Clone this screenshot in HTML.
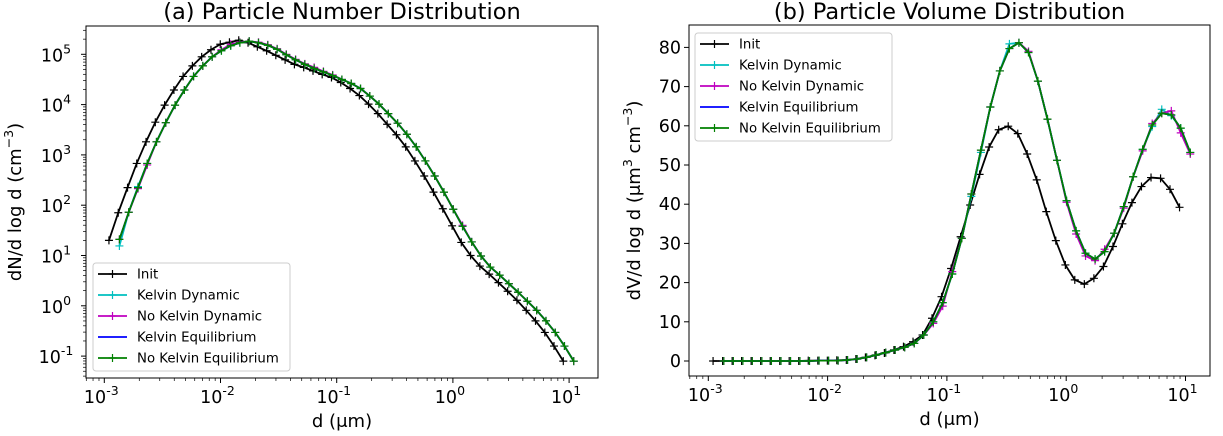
<!DOCTYPE html>
<html><head><meta charset="utf-8">
<style>
html,body{margin:0;padding:0;background:#fff;}
svg{display:block;font-family:"DejaVu Sans","Liberation Sans",sans-serif;}
</style></head>
<body>
<svg id="fig" width="1223" height="436" viewBox="0 0 1223 436" xmlns="http://www.w3.org/2000/svg"></svg>
<script>
const logD_init = [-2.960,-2.880,-2.800,-2.721,-2.641,-2.561,-2.481,-2.401,-2.322,-2.242,-2.162,-2.082,-2.002,-1.923,-1.843,-1.763,-1.683,-1.603,-1.524,-1.444,-1.364,-1.284,-1.204,-1.125,-1.045,-0.965,-0.885,-0.805,-0.726,-0.646,-0.566,-0.486,-0.406,-0.327,-0.247,-0.167,-0.087,-0.007,0.072,0.152,0.232,0.312,0.392,0.471,0.551,0.631,0.711,0.791,0.870,0.950];
const logD_grown = [-2.870,-2.790,-2.710,-2.631,-2.551,-2.471,-2.391,-2.311,-2.232,-2.152,-2.072,-1.992,-1.912,-1.833,-1.753,-1.673,-1.593,-1.513,-1.434,-1.354,-1.274,-1.194,-1.114,-1.035,-0.955,-0.875,-0.795,-0.715,-0.636,-0.556,-0.476,-0.396,-0.316,-0.237,-0.157,-0.077,0.003,0.083,0.162,0.242,0.322,0.402,0.482,0.561,0.641,0.721,0.801,0.881,0.960,1.040];

// log10 of dN/dlogd
const numInit = [1.30,1.85,2.35,2.83,3.26,3.65,3.99,4.29,4.56,4.77,4.95,5.09,5.20,5.24,5.28,5.23,5.15,5.07,4.98,4.89,4.80,4.74,4.67,4.60,4.54,4.44,4.32,4.18,4.01,3.82,3.61,3.40,3.16,2.88,2.58,2.26,1.93,1.59,1.26,1.00,0.79,0.63,0.46,0.29,0.11,-0.09,-0.30,-0.53,-0.80,-1.10];
const numKelvinDyn = [1.19,1.86,2.37,2.83,3.26,3.64,3.99,4.29,4.56,4.77,4.95,5.07,5.17,5.23,5.26,5.23,5.18,5.10,4.99,4.89,4.80,4.72,4.65,4.58,4.50,4.42,4.32,4.17,4.01,3.82,3.63,3.41,3.16,2.88,2.58,2.26,1.92,1.58,1.27,0.99,0.77,0.61,0.44,0.27,0.09,-0.09,-0.30,-0.53,-0.80,-1.10];
const numNoKelvinDyn = [1.32,1.86,2.33,2.80,3.26,3.64,3.99,4.29,4.56,4.77,4.95,5.09,5.20,5.24,5.26,5.24,5.19,5.11,5.00,4.90,4.81,4.74,4.66,4.59,4.50,4.42,4.32,4.17,4.01,3.82,3.63,3.41,3.16,2.88,2.58,2.26,1.92,1.60,1.27,0.99,0.77,0.61,0.44,0.27,0.09,-0.09,-0.30,-0.53,-0.80,-1.10];
const numKelvinEq = [1.32,1.86,2.35,2.83,3.26,3.64,3.99,4.29,4.56,4.77,4.95,5.07,5.17,5.23,5.26,5.23,5.18,5.10,4.99,4.89,4.80,4.72,4.65,4.58,4.50,4.42,4.32,4.17,4.01,3.82,3.63,3.41,3.16,2.88,2.58,2.26,1.92,1.58,1.27,0.99,0.77,0.61,0.44,0.27,0.09,-0.09,-0.30,-0.53,-0.80,-1.10];
const numNoKelvinEq = [1.32,1.86,2.35,2.83,3.26,3.64,3.99,4.29,4.56,4.77,4.95,5.07,5.17,5.23,5.26,5.23,5.18,5.10,4.99,4.89,4.80,4.72,4.65,4.58,4.50,4.42,4.32,4.17,4.01,3.82,3.63,3.41,3.16,2.88,2.58,2.26,1.92,1.58,1.27,0.99,0.77,0.61,0.44,0.27,0.09,-0.09,-0.30,-0.53,-0.80,-1.10];

const volInit = [0,0,0,0,0,0,0,0,0,0,0.1,0.1,0.1,0.2,0.26,0.5,0.94,1.45,2.04,2.8,3.66,4.93,6.63,10.9,16.4,23.6,31.7,39.8,47.6,54.6,59.0,59.9,58.0,52.8,46.2,38.1,30.7,24.5,20.7,19.6,21.1,24.1,29.2,35.0,40.4,44.5,46.8,46.6,43.8,39.2];
const volKelvinDyn = [0,0,0,0,0,0,0,0,0,0,0.1,0.1,0.1,0.26,0.5,0.94,1.53,2.13,2.8,3.49,4.5,6.63,10.0,14.9,22.2,31.3,42.0,53.2,64.8,74.0,80.9,81.2,78.7,71.4,61.7,51.2,40.9,33.2,27.5,26.0,27.9,32.6,39.4,47.0,54.0,59.8,64.2,62.6,59.4,53.2];
const volNoKelvinDyn = [0,0,0,0,0,0,0,0,0,0,0.1,0.1,0.1,0.26,0.5,0.94,1.53,2.13,2.8,3.49,4.5,6.63,9.6,14.0,22.8,31.3,42.6,53.8,64.8,74.0,79.7,81.2,79.0,71.4,61.7,51.2,40.5,32.4,26.8,25.6,28.5,32.6,39.0,47.0,53.6,60.6,63.2,63.8,58.2,52.8];
const volKelvinEq = [0,0,0,0,0,0,0,0,0,0,0.1,0.1,0.1,0.26,0.5,0.94,1.53,2.13,2.8,3.49,4.5,6.63,10.0,14.9,22.2,31.3,42.6,53.8,64.8,74.0,79.7,81.2,78.7,71.4,61.7,51.2,40.9,33.2,27.5,26.0,27.9,32.6,39.4,47.0,54.0,60.2,63.2,62.8,59.4,53.2];
const volNoKelvinEq = [0,0,0,0,0,0,0,0,0,0,0.1,0.1,0.1,0.26,0.5,0.94,1.53,2.13,2.8,3.49,4.5,6.63,10.0,14.9,22.2,31.3,42.6,53.8,64.8,74.0,79.7,81.2,78.7,71.4,61.7,51.2,40.9,33.2,27.5,26.0,27.9,32.6,39.4,47.0,54.0,60.2,63.2,62.8,59.4,53.2];

const xDecades = [-3,-2,-1,0,1];
const xTickLabels = ["-3","-2","-1","0","1"];
const yLogDecades = [-1,0,1,2,3,4,5];
const yLogLabels = ["-1","0","1","2","3","4","5"];
const yLinTicks = [0,10,20,30,40,50,60,70,80];

const seriesNames = ["Init","Kelvin Dynamic","No Kelvin Dynamic","Kelvin Equilibrium","No Kelvin Equilibrium"];
const seriesColors = ["#000000","#00bfbf","#bf00bf","#0000ff","#008000"];
const seriesMarkers = [true,true,true,false,true];

const NS="http://www.w3.org/2000/svg";
const svg=document.getElementById('fig');
function el(tag,attrs,parent){const e=document.createElementNS(NS,tag);for(const k in attrs)e.setAttribute(k,attrs[k]);(parent||svg).appendChild(e);return e;}

function drawPanel(cfg){
  const g=el('g',{});
  
  
  const L=cfg.L,R=cfg.R,T=cfg.T,B=cfg.B;
  const sx=v=>cfg.x0+(v+3)*cfg.xdec;
  const sy=cfg.sy;
  const xt=el('g',{},g);
  
  
  for(let d=-4;d<=1;d++){
    for(let m=1;m<10;m++){
      const v=d+Math.log10(m);
      const x=sx(v);
      if(x<L||x>R)continue;
      el('line',{x1:x,x2:x,y1:B,y2:B+(m===1?5:3),stroke:'#000','stroke-width':m===1?1:0.7},xt);
    }
  }
  xDecades.forEach((d,i)=>{
    const t=el('text',{x:sx(d)-3,y:B+25,'font-size':17.5,'text-anchor':'middle'},xt);
    
    
    t.appendChild(document.createTextNode('10'));
    const s=el('tspan',{dy:-8,'font-size':12.5},t);s.textContent=xTickLabels[i];
  });
  const yt=el('g',{},g);
  
  
  if(cfg.log){
    for(let d=-2;d<=5;d++){
      for(let m=1;m<10;m++){
        const y=sy(d+Math.log10(m));
        if(y<T||y>B)continue;
        el('line',{x1:L,x2:L-(m===1?5:3),y1:y,y2:y,stroke:'#000','stroke-width':m===1?1:0.7},yt);
      }
    }
    yLogDecades.forEach((d,i)=>{
      const t=el('text',{x:L-30,y:sy(d)+7,'font-size':17.5,'text-anchor':'middle'},yt);
      
      
      t.appendChild(document.createTextNode('10'));
      const s=el('tspan',{dy:-8,'font-size':12.5},t);s.textContent=yLogLabels[i];
    });
  } else {
    yLinTicks.forEach(v=>{
      const y=sy(v);
      el('line',{x1:L,x2:L-5,y1:y,y2:y,stroke:'#000','stroke-width':1},yt);
      const t=el('text',{x:L-8,y:y+6,'font-size':17.5,'text-anchor':'end'},yt);
      
      
      t.textContent=v;
    });
  }
  const clip='clip-'+cfg.name;
  const cp=el('clipPath',{id:clip},g);el('rect',{x:L,y:T,width:R-L,height:B-T},cp);
  cfg.series.forEach((s,k)=>{
    const sg=el('g',{'clip-path':'url(#'+clip+')'},g);
    
    
    const xs=k===0?logD_init:logD_grown;
    const pts=s.map((v,i)=>[sx(xs[i]),sy(v)]);
    el('polyline',{points:pts.map(p=>p.join(',')).join(' '),fill:'none',stroke:seriesColors[k],'stroke-width':1.8,'stroke-linejoin':'round'},sg);
    if(seriesMarkers[k]){
      let dstr='';
      pts.forEach(p=>{dstr+=`M${p[0]-4},${p[1]}h8M${p[0]},${p[1]-4}v8`;});
      el('path',{d:dstr,stroke:seriesColors[k],'stroke-width':1.2,fill:'none'},sg);
    }
  });
  const fr=el('rect',{x:L,y:T,width:R-L,height:B-T,fill:'none',stroke:'#000','stroke-width':1},g);
  
  
  const tt=el('text',{x:(L+R)/2,y:19,'font-size':22.5,'text-anchor':'middle'},g);
  
  
  tt.textContent=cfg.title;
  const xl=el('text',{x:(L+R)/2,y:B+49,'font-size':18,'text-anchor':'middle'},g);
  
  
  xl.textContent='d (\u03bcm)';
  const yl=el('text',{x:0,y:0,'font-size':18,'text-anchor':'middle',transform:`translate(${cfg.ylx},${(T+B)/2}) rotate(-90)`},g);
  
  
  cfg.ylab(yl);
  const lg=el('g',{},g);
  
  
  const lx=cfg.legX,ly=cfg.legY;
  el('rect',{x:lx,y:ly,width:197,height:108,rx:3,fill:'#fff','fill-opacity':0.8,stroke:'#ccc','stroke-width':1},lg);
  seriesNames.forEach((n,k)=>{
    const e=el('g',{},lg);
    
    
    const yy=ly+11+k*21;
    el('line',{x1:lx+5,x2:lx+34,y1:yy,y2:yy,stroke:seriesColors[k],'stroke-width':1.8},e);
    if(seriesMarkers[k]) el('path',{d:`M${lx+15.5},${yy}h8M${lx+19.5},${yy-4}v8`,stroke:seriesColors[k],'stroke-width':1.2},e);
    const t=el('text',{x:lx+44,y:yy+4.5,'font-size':13.3},e);t.textContent=n;
  });
}

drawPanel({name:'number-panel',L:86,R:598,T:26,B:378,x0:104.3,xdec:116.2,log:true,
  sy:v=>54.3-(v-5)*50.3,
  series:[numInit,numKelvinDyn,numNoKelvinDyn,numKelvinEq,numNoKelvinEq],
  title:'(a) Particle Number Distribution',ylx:21,
  ylab:t=>{t.appendChild(document.createTextNode('dN/d log d (cm'));const s=el('tspan',{dy:-8,'font-size':12.5},t);s.textContent='\u22123';const s2=el('tspan',{dy:8},t);s2.textContent=')';},
  legX:93,legY:263});
drawPanel({name:'volume-panel',L:689,R:1210,T:25,B:376,x0:708.3,xdec:119.3,log:false,
  sy:v=>361-v*3.92,
  series:[volInit,volKelvinDyn,volNoKelvinDyn,volKelvinEq,volNoKelvinEq],
  title:'(b) Particle Volume Distribution',ylx:640,
  ylab:t=>{t.appendChild(document.createTextNode('dV/d log d (\u03bcm'));const s=el('tspan',{dy:-8,'font-size':12.5},t);s.textContent='3';const s2=el('tspan',{dy:8},t);s2.textContent=' cm';const s3=el('tspan',{dy:-8,'font-size':12.5},t);s3.textContent='\u22123';const s4=el('tspan',{dy:8},t);s4.textContent=')';},
  legX:695,legY:33});
</script>
</body></html>
